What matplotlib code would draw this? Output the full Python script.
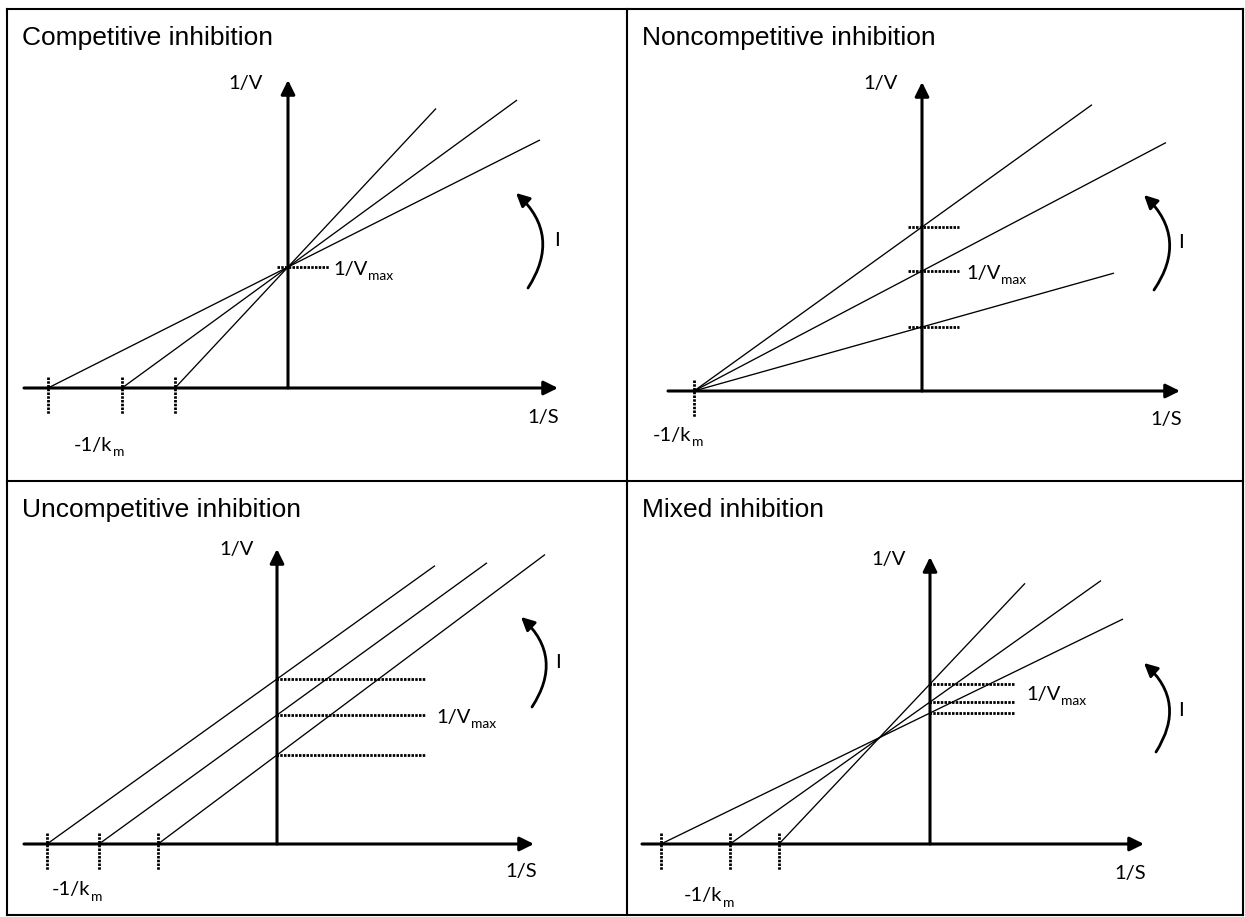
import matplotlib
matplotlib.use("Agg")
import matplotlib.pyplot as plt
from matplotlib.patches import FancyArrowPatch, ArrowStyle
from matplotlib.lines import Line2D

# ---- Lineweaver-Burk data (1/S on x, 1/V on y), one line per inhibitor level ----
TITLES = ["Competitive inhibition", "Noncompetitive inhibition",
          "Uncompetitive inhibition", "Mixed inhibition"]

# -1/Km (x intercept) of each line
COMP_X_INTERCEPTS = [-2.40, -1.66, -1.13]
NONCOMP_X_INTERCEPTS = [-2.28, -2.28, -2.28]
UNCOMP_X_INTERCEPTS = [-2.30, -1.78, -1.19]
MIXED_X_INTERCEPTS = [-2.69, -2.00, -1.51]

# 1/Vmax (y intercept) of each line
COMP_Y_INTERCEPTS = [1.21, 1.21, 1.21]
NONCOMP_Y_INTERCEPTS = [1.64, 1.20, 0.64]
UNCOMP_Y_INTERCEPTS = [1.65, 1.29, 0.89]
MIXED_Y_INTERCEPTS = [1.31, 1.42, 1.60]

# 1/S where each drawn line stops
COMP_LINE_ENDS = [2.52, 2.29, 1.48]
NONCOMP_LINE_ENDS = [1.70, 2.44, 1.92]
UNCOMP_LINE_ENDS = [1.58, 2.10, 2.68]
MIXED_LINE_ENDS = [1.93, 1.71, 0.95]

PANEL_DATA = [
    (COMP_X_INTERCEPTS, COMP_Y_INTERCEPTS, COMP_LINE_ENDS),
    (NONCOMP_X_INTERCEPTS, NONCOMP_Y_INTERCEPTS, NONCOMP_LINE_ENDS),
    (UNCOMP_X_INTERCEPTS, UNCOMP_Y_INTERCEPTS, UNCOMP_LINE_ENDS),
    (MIXED_X_INTERCEPTS, MIXED_Y_INTERCEPTS, MIXED_LINE_ENDS),
]

# ---- layout (pixels of the 1245x917 canvas) ----
W, H = 1245, 917
SCALE = 100.0  # pixels per data unit
COLS = [(7, 627), (627, 1243)]
ROWS = [(9, 481), (481, 915)]
ORIGINS = [(288, 388), (922, 391), (277, 844), (930, 844)]

LAYOUT = [
    dict(xaxis=(-2.64, 2.70), ytop=3.08, vdots=(-0.11, 0.41), vmax_label=(0.45, 1.21, 0),
         lbl_v=(-0.42, 3.05), lbl_s=(2.55, -0.30), lbl_km=(-1.88, -0.57),
         arc=((2.40, 1.00), (2.28, 1.95)), lbl_i=(2.69, 1.47)),
    dict(xaxis=(-2.54, 2.58), ytop=3.09, vdots=(-0.14, 0.37), vmax_label=(0.44, 1.20, 0),
         lbl_v=(-0.41, 3.08), lbl_s=(2.44, -0.29), lbl_km=(-2.43, -0.44),
         arc=((2.32, 1.01), (2.22, 1.96)), lbl_i=(2.59, 1.48)),
    dict(xaxis=(-2.53, 2.57), ytop=2.95, vdots=(-0.01, 1.49), vmax_label=(1.59, 1.29, 0),
         lbl_v=(-0.40, 2.94), lbl_s=(2.44, -0.28), lbl_km=(-1.99, -0.46),
         arc=((2.55, 1.37), (2.44, 2.27)), lbl_i=(2.81, 1.81)),
    dict(xaxis=(-2.88, 2.14), ytop=2.87, vdots=(-0.01, 0.84), vmax_label=(0.96, 1.60, -8),
         lbl_v=(-0.41, 2.84), lbl_s=(2.00, -0.29), lbl_km=(-2.20, -0.52),
         arc=((2.26, 0.92), (2.14, 1.81)), lbl_i=(2.51, 1.34)),
]

TITLE_FONT = "Liberation Sans"
LABEL_FONT = "Lato"
TITLE_SIZE = 19
LABEL_SIZE = 14.5
SUB_SIZE = 10
AXIS_LW = 2.2
LINE_LW = 0.95
DOT_LW = 2.0
DOT_STYLE = (0, (0.9, 0.45))

fig = plt.figure(figsize=(W / 100, H / 100), dpi=100)
fig.patch.set_facecolor("white")


def fx(px):
    return px / W


def fy(py):
    return 1 - py / H


def sub_label(ax, base, sub, **kw):
    """Draw text with a lowered subscript placed right after it."""
    main = ax.annotate(base, fontsize=LABEL_SIZE, family=LABEL_FONT, **kw)
    ax.annotate(sub, xy=(1, 0), xycoords=main, xytext=(0.3, -3.0), textcoords="offset points",
                fontsize=SUB_SIZE, family=LABEL_FONT, ha="left", va="bottom")
    return main


# table borders
BORDER_LW = 1.5
for x in (7, 627, 1243):
    fig.add_artist(Line2D([fx(x), fx(x)], [fy(9), fy(915)], color="black", lw=BORDER_LW,
                          solid_capstyle="projecting"))
for y in (9, 481, 915):
    fig.add_artist(Line2D([fx(7), fx(1243)], [fy(y), fy(y)], color="black", lw=BORDER_LW,
                          solid_capstyle="projecting"))

axis_head = ArrowStyle("-|>", head_length=8.5, head_width=4.2)

for i, (title, (xints, yints, ends), lay) in enumerate(zip(TITLES, PANEL_DATA, LAYOUT)):
    col, row = i % 2, i // 2
    (cl, cr), (ct, cb) = COLS[col], ROWS[row]
    ox, oy = ORIGINS[i]
    ax = fig.add_axes([fx(cl), fy(cb), (cr - cl) / W, (cb - ct) / H])
    ax.set_xlim((cl - ox) / SCALE, (cr - ox) / SCALE)
    ax.set_ylim((oy - cb) / SCALE, (oy - ct) / SCALE)
    ax.axis("off")

    # title
    ax.text(15 / (cr - cl), 1 - 36 / (cb - ct), title, transform=ax.transAxes,
            ha="left", va="baseline", fontsize=TITLE_SIZE, family=TITLE_FONT)

    # inhibitor lines: y = (1/Vmax) * (1 - x / x_intercept)
    for xi, yi, xe in zip(xints, yints, ends):
        ax.plot([xi, xe], [0, yi * (1 - xe / xi)], color="black", lw=LINE_LW,
                solid_capstyle="butt", zorder=3)

    # -1/Km markers
    for xi in sorted(set(xints)):
        ax.plot([xi, xi], [0.11, -0.26], color="black", lw=DOT_LW, linestyle=DOT_STYLE, zorder=4)

    # 1/Vmax markers
    for yi in sorted(set(yints)):
        ax.plot(list(lay["vdots"]), [yi, yi], color="black", lw=DOT_LW, linestyle=DOT_STYLE,
                zorder=4)

    # coordinate axes with arrow heads
    x0, x1 = lay["xaxis"]
    ax.add_patch(FancyArrowPatch((x0, 0), (x1, 0), arrowstyle=axis_head, mutation_scale=1,
                                 lw=AXIS_LW, color="black", shrinkA=0, shrinkB=0, zorder=5))
    ax.add_patch(FancyArrowPatch((0, 0), (0, lay["ytop"]), arrowstyle=axis_head, mutation_scale=1,
                                 lw=AXIS_LW, color="black", shrinkA=0, shrinkB=0, zorder=5))

    # axis labels
    lab = dict(fontsize=LABEL_SIZE, family=LABEL_FONT, ha="center", va="center")
    ax.text(*lay["lbl_v"], "1/V", **lab)
    ax.text(*lay["lbl_s"], "1/S", **lab)
    kx, ky = lay["lbl_km"]
    sub_label(ax, "-1/k", "m", xy=(kx - 0.07, ky), ha="center", va="center")
    vx, vy, vdy = lay["vmax_label"]
    sub_label(ax, "1/V", "max", xy=(vx, vy), xytext=(0, -5.5 + vdy * 0.72),
              textcoords="offset points", ha="left", va="baseline")

    # increasing inhibitor arrow
    p_start, p_end = lay["arc"]
    ax.add_patch(FancyArrowPatch(p_start, p_end, connectionstyle="arc3,rad=0.42",
                                 arrowstyle=ArrowStyle("-|>", head_length=8, head_width=4),
                                 mutation_scale=1, lw=2.0, color="black",
                                 shrinkA=0, shrinkB=0, zorder=5))
    ax.text(*lay["lbl_i"], "I", **lab)

fig.savefig("out.png", dpi=100, facecolor="white")
